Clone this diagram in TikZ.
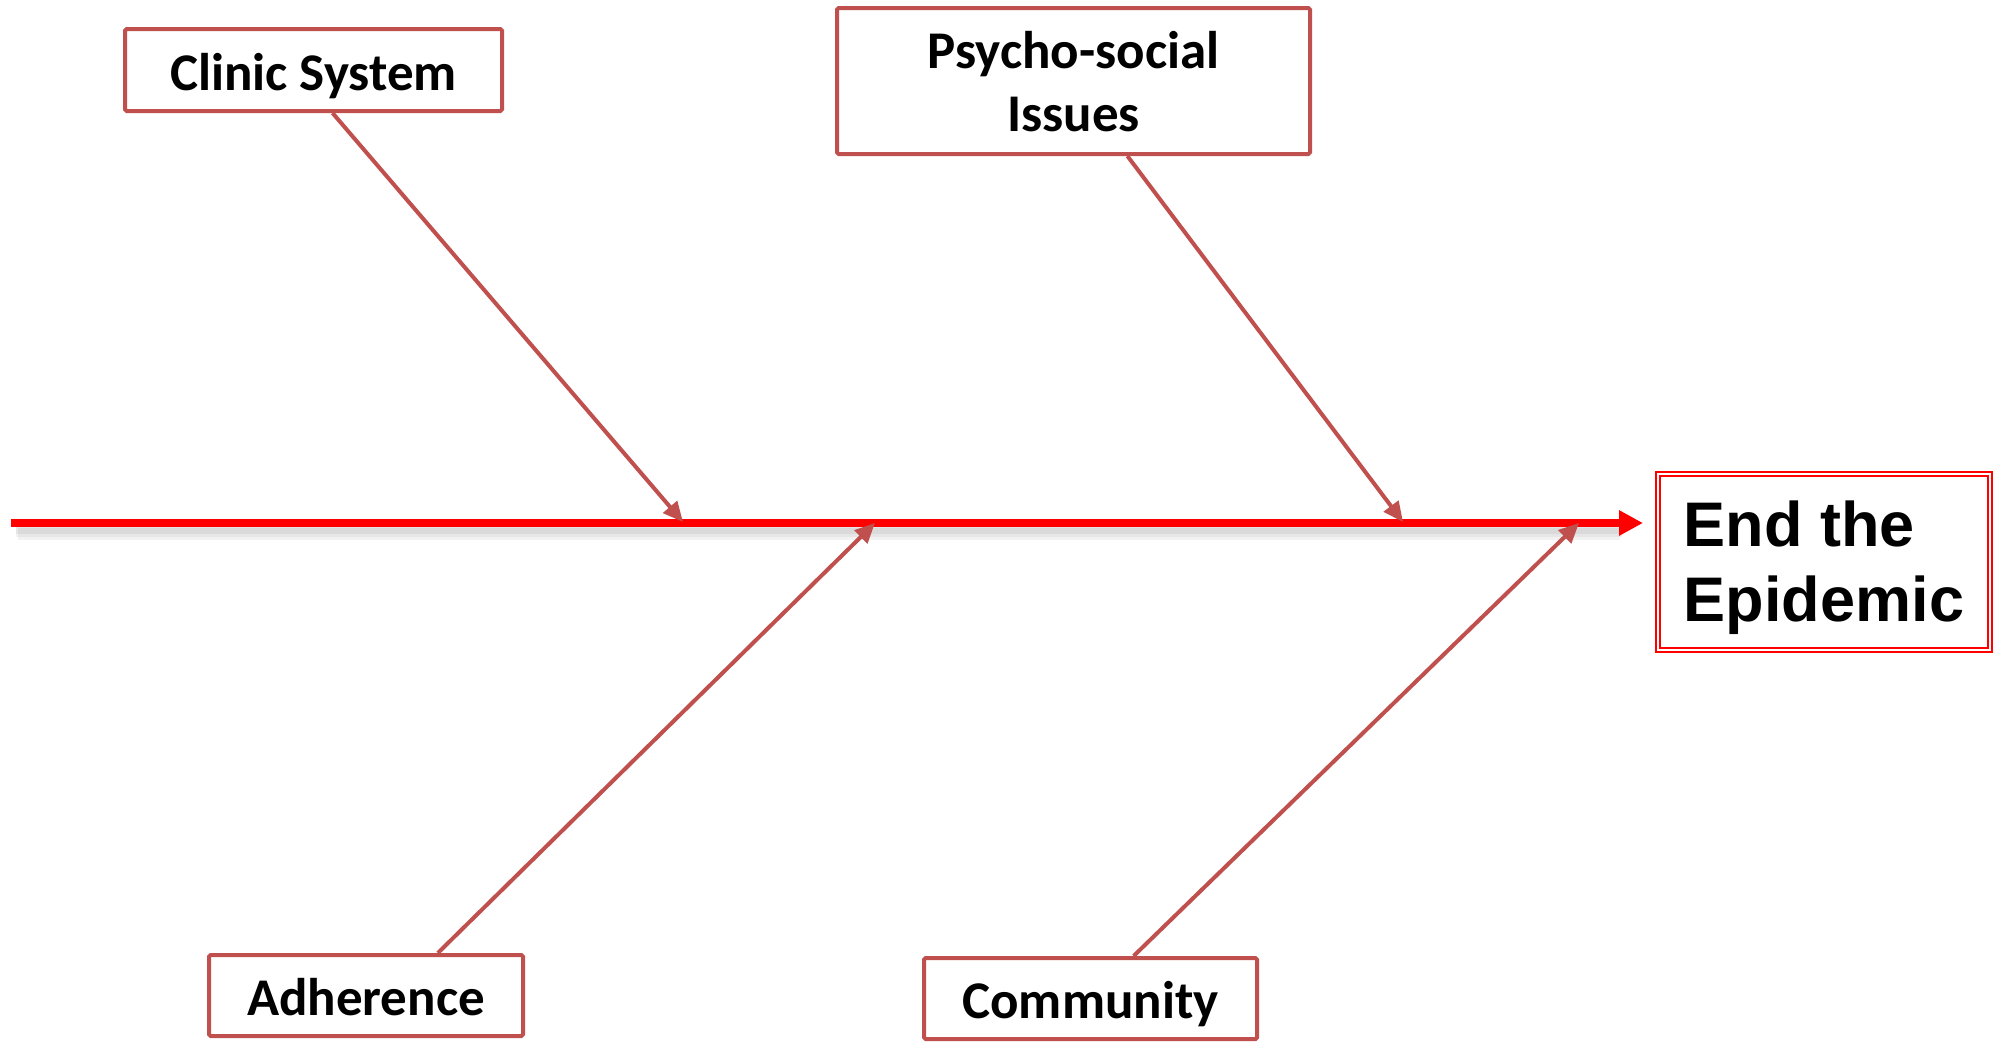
\documentclass[tikz,border=0pt]{standalone}
\usepackage{fontspec}
\setmainfont{Carlito}
\newfontfamily\arialf{Liberation Sans}
\usetikzlibrary{arrows.meta,calc}
\definecolor{bone}{RGB}{192,80,77}
\begin{document}
\begin{tikzpicture}[x=0.5pt,y=-0.5pt,
  causebox/.style={draw=bone,line width=2pt,fill=white,rounded corners=0.8pt,
    font=\bfseries\fontsize{26.5}{31.5}\selectfont,inner sep=0pt,text depth=0pt},
  bonearrow/.style={draw=bone,line width=2pt,-{Triangle[length=10pt,width=9pt]}},
  spine/.style={draw=red,line width=4pt,-{Triangle[length=12pt,width=12pt]}},
  spineshadow/.style={draw=black,line width=6pt,opacity=0.05}]
\useasboundingbox (0,0) rectangle (1999,1045);
% spine
\coordinate (s0) at (11,523);
\coordinate (s1) at (1643,523);
\draw[spineshadow] (16,528) -- (1622,528);
\draw[spineshadow] (16,531) -- (1622,531);
\draw[spineshadow] (18,534) -- (1620,534);
\draw[spine] (s0) -- (s1);
% goal
\node[draw=red,line width=0.9pt,double=white,double distance=1.2pt,
  minimum width=166pt,minimum height=87.75pt,inner sep=0pt,
  label={[font=\arialf\bfseries\fontsize{31.5}{37.5}\selectfont,align=left,yshift=-3pt]center:End the\\Epidemic}]
  (goal) at (1824,562) {};
% causes
\node[causebox,text height=20pt,minimum width=188.5pt,minimum height=41pt] (clinic) at (313.5,70) {Clinic System};
\node[causebox,align=center,minimum width=236.5pt,minimum height=73pt] (psycho) at (1073.5,81) {Psycho-social\\Issues};
\node[causebox,text height=19.5pt,minimum width=157pt,minimum height=40.5pt] (adher) at (366,995.5) {Adherence};
\node[causebox,text height=20pt,minimum width=166.5pt,minimum height=40.5pt] (comm) at (1090.5,998.5) {Community};
% spine points
\coordinate (c1) at (683,522);
\coordinate (c2) at (1403,522);
\coordinate (c3) at (875,523);
\coordinate (c4) at (1579,523);
\draw[bonearrow] ($(clinic.south west)!0.55!(clinic.south east)$) -- (c1);
\draw[bonearrow] ($(psycho.south west)!0.613!(psycho.south east)$) -- (c2);
\draw[bonearrow] ($(adher.north west)!0.726!(adher.north east)$) -- (c3);
\draw[bonearrow] ($(comm.north west)!0.628!(comm.north east)$) -- (c4);
\end{tikzpicture}
\end{document}
